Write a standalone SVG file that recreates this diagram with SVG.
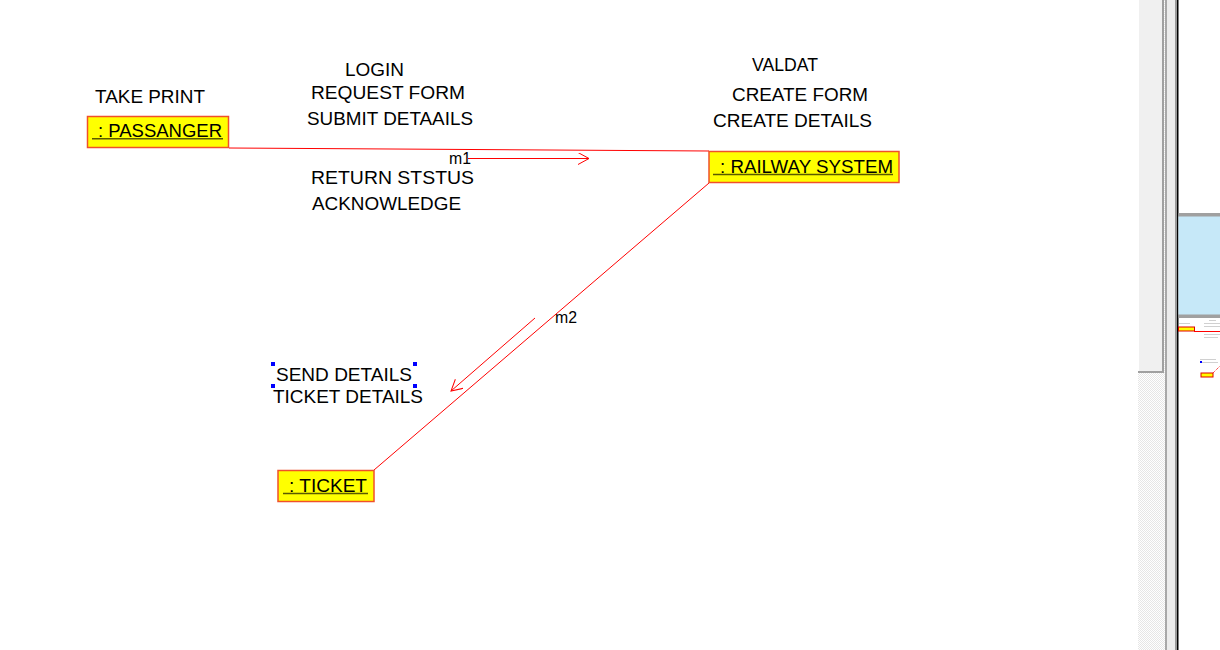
<svg xmlns="http://www.w3.org/2000/svg" width="1220" height="650" viewBox="0 0 1220 650">
  <style>
    .lbl { font-family: "Liberation Sans", Arial, sans-serif; font-size: 18px; fill: #000; }
    .msg { font-family: "Liberation Sans", Arial, sans-serif; font-size: 16px; fill: #000; }
    .obj { fill: #ffff00; stroke: #f0502a; stroke-width: 1.5; }
    .ul { stroke: #5a5a00; stroke-width: 1.6; }
    .link { stroke: #ff0000; stroke-width: 1; fill: none; }
    .handle { fill: #0000ff; }
    .mini { stroke: #c4c4c4; stroke-width: 0.8; }
  </style>
  <defs>
    <marker id="open" markerUnits="userSpaceOnUse" markerWidth="14" markerHeight="14" refX="11" refY="6" orient="auto">
      <path d="M0,0 L11,6 L0,12" fill="none" stroke="#ff0000" stroke-width="1"/>
    </marker>
    <pattern id="check" width="2" height="2" patternUnits="userSpaceOnUse">
      <rect width="2" height="2" fill="#ffffff"/>
      <rect width="1" height="1" fill="#e6e6e6"/>
      <rect x="1" y="1" width="1" height="1" fill="#e6e6e6"/>
    </pattern>
  </defs>
  <rect width="1220" height="650" fill="#ffffff"/>

  <g id="connectors">
    <line class="link" x1="229" y1="148" x2="709" y2="151"/>
    <line class="link" x1="709" y1="183" x2="374" y2="470"/>
    <line class="link" x1="468" y1="158.5" x2="589" y2="158.5" marker-end="url(#open)"/>
    <line class="link" x1="535" y1="318" x2="451" y2="391" marker-end="url(#open)"/>
    <text class="msg" x="449" y="164" textLength="22" lengthAdjust="spacingAndGlyphs">m1</text>
    <text class="msg" x="555" y="323" textLength="22" lengthAdjust="spacingAndGlyphs">m2</text>
  </g>

  <g id="passanger">
    <rect class="obj" x="87.5" y="116.5" width="141" height="31"/>
    <text class="lbl" x="98" y="137" textLength="124" lengthAdjust="spacingAndGlyphs">: PASSANGER</text>
    <line class="ul" x1="92" y1="138.8" x2="223" y2="138.8"/>
  </g>

  <g id="railway-system">
    <rect class="obj" x="709" y="151.5" width="190" height="31"/>
    <text class="lbl" x="720" y="173" textLength="173" lengthAdjust="spacingAndGlyphs">: RAILWAY SYSTEM</text>
    <line class="ul" x1="713" y1="174.5" x2="893" y2="174.5"/>
  </g>

  <g id="ticket">
    <rect class="obj" x="278" y="470.5" width="96" height="31"/>
    <text class="lbl" x="289" y="492" textLength="78" lengthAdjust="spacingAndGlyphs">: TICKET</text>
    <line class="ul" x1="283" y1="493.5" x2="368" y2="493.5"/>
  </g>

  <g id="labels-passanger">
    <text class="lbl" x="95" y="103" textLength="110" lengthAdjust="spacingAndGlyphs">TAKE PRINT</text>
  </g>

  <g id="labels-m1">
    <text class="lbl" x="345" y="76" textLength="59" lengthAdjust="spacingAndGlyphs">LOGIN</text>
    <text class="lbl" x="311" y="99" textLength="154" lengthAdjust="spacingAndGlyphs">REQUEST FORM</text>
    <text class="lbl" x="307" y="125" textLength="166" lengthAdjust="spacingAndGlyphs">SUBMIT DETAAILS</text>
    <text class="lbl" x="311" y="184" textLength="163" lengthAdjust="spacingAndGlyphs">RETURN STSTUS</text>
    <text class="lbl" x="312" y="210" textLength="149" lengthAdjust="spacingAndGlyphs">ACKNOWLEDGE</text>
  </g>

  <g id="labels-railway">
    <text class="lbl" x="752" y="71" textLength="66" lengthAdjust="spacingAndGlyphs">VALDAT</text>
    <text class="lbl" x="732" y="101" textLength="136" lengthAdjust="spacingAndGlyphs">CREATE FORM</text>
    <text class="lbl" x="713" y="127" textLength="159" lengthAdjust="spacingAndGlyphs">CREATE DETAILS</text>
  </g>

  <g id="labels-m2">
    <text class="lbl" x="276" y="381" textLength="136" lengthAdjust="spacingAndGlyphs">SEND DETAILS</text>
    <text class="lbl" x="273" y="403" textLength="150" lengthAdjust="spacingAndGlyphs">TICKET DETAILS</text>
    <rect class="handle" x="271" y="362" width="4" height="4"/>
    <rect class="handle" x="413" y="362" width="4" height="4"/>
    <rect class="handle" x="271" y="384" width="4" height="4"/>
    <rect class="handle" x="413" y="384" width="4" height="4"/>
  </g>

  <g id="side-panel">
    <rect x="1138" y="0" width="28" height="650" fill="url(#check)"/>
    <rect x="1138" y="0" width="26" height="373" fill="#a0a0a0"/>
    <rect x="1138" y="0" width="24" height="371" fill="#f0f0f0"/>
    <rect x="1138" y="0" width="1" height="371" fill="#ffffff"/>
    <rect x="1165" y="0" width="2" height="650" fill="#a8a8a8"/>
    <rect x="1167" y="0" width="8" height="650" fill="#ececec"/>
    <rect x="1175" y="0" width="2" height="650" fill="#9a9a9a"/>
    <rect x="1177" y="0" width="1.5" height="650" fill="#000000"/>
    <rect x="1178.5" y="213" width="41.5" height="105" fill="#a0a0a0"/>
    <rect x="1178.5" y="216.5" width="41.5" height="98" fill="#c6e8f8"/>
    <line class="mini" x1="1179" y1="323.5" x2="1190" y2="323.5"/>
    <line class="mini" x1="1209" y1="320.5" x2="1216" y2="320.5"/>
    <line class="mini" x1="1204" y1="323.5" x2="1220" y2="323.5"/>
    <line class="mini" x1="1204" y1="326.5" x2="1220" y2="326.5"/>
    <line class="mini" x1="1204" y1="334.5" x2="1220" y2="334.5"/>
    <line class="mini" x1="1204" y1="337.5" x2="1218" y2="337.5"/>
    <line class="mini" x1="1200" y1="359.5" x2="1216" y2="359.5"/>
    <line class="mini" x1="1200" y1="362.5" x2="1218" y2="362.5"/>
    <rect x="1200" y="361" width="2" height="2" fill="#0000ff"/>
    <rect x="1178.5" y="327" width="16" height="4" fill="#ffff00" stroke="#e00000" stroke-width="1"/>
    <line x1="1194" y1="331.5" x2="1220" y2="331.5" stroke="#ff0000" stroke-width="1"/>
    <rect x="1201" y="373" width="12" height="4" fill="#ffff00" stroke="#e00000" stroke-width="1"/>
    <line x1="1213" y1="373" x2="1220" y2="366" stroke="#ff0000" stroke-width="1" stroke-dasharray="1 1"/>
  </g>
</svg>
